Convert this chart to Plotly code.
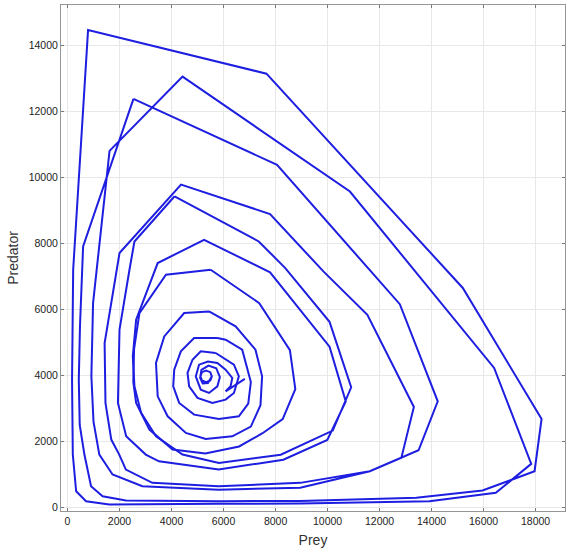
import plotly.graph_objects as go

# ---- data (prey, predator) ----
# outer four-revolution orbit
outer_x = [2536, 600, 480, 434, 470, 650, 905, 1350, 2245, 5812, 8948, 13411, 15958, 17960, 18229, 15200, 7650,
           790, 218, 175, 204, 332, 714, 1606, 5812, 8948, 13919, 16470, 17832, 16405, 10860,
           4424, 1617, 1134, 983, 918, 1000, 1224, 1732, 2879, 5812, 8948, 11625, 12837, 13319, 11531, 9840, 7789,
           4366, 2000, 1427, 1460, 1683, 1989, 2245, 3262, 5812, 8948, 11625, 13499, 14237, 12779, 8057, 2536]
outer_y = [12377, 7907, 5500, 3873, 2500, 1604, 645, 342, 212, 191, 200, 294, 514, 1099, 2684, 6650, 13140,
           14460, 7202, 3873, 1604, 494, 191, 91, 112, 121, 191, 445, 1322, 4227, 9571,
           13051, 10802, 7202, 6194, 3973, 2600, 1604, 999, 645, 540, 600, 1099, 1504, 3047, 5839, 7151, 8890,
           9780, 7707, 4984, 3168, 2058, 1604, 1150, 747, 645, 747, 1099, 1734, 3217, 6159, 10379, 12377]

# two-revolution orbit (tops near 9400 and 8100)
ef_x = [4117, 2574, 2383, 2000, 1939, 2256, 3009, 3518, 5812, 8300, 9990, 10700, 10076, 7789,
        5251, 3468, 2639, 2511, 2574, 2830, 3403, 4424, 5824, 8200, 10200, 10908, 10076, 9331, 8374, 7355, 4117]
ef_y = [9427, 8058, 7202, 5386, 3168, 2158, 1604, 1401, 1150, 1450, 2045, 3214, 4874, 7123,
        8110, 7404, 5689, 4579, 3671, 2866, 2158, 1604, 1352, 1600, 2330, 3642, 5624, 6346, 7253, 8058, 9427]

g_x = [5506, 3786, 2766, 2560, 2530, 2639, 3149, 4040, 5300, 6600, 7500, 8274, 8760, 8552, 7374, 5506]
g_y = [7202, 7051, 5890, 4800, 3800, 3168, 2360, 1755, 1640, 1850, 2250, 2678, 3589, 4767, 6192, 7202]

h_x = [5442, 4486, 3721, 3403, 3468, 3851, 4551, 5315, 6336, 7050, 7420, 7483, 7228, 6463, 5442]
h_y = [5940, 5891, 5184, 4379, 3368, 2763, 2260, 2079, 2158, 2450, 3100, 3973, 4781, 5486, 5940]

i_x = [5763, 4868, 4359, 4104, 4065, 4295, 4868, 5824, 6589, 6950, 7050, 6718, 6080, 5763]
i_y = [5135, 5135, 4730, 4176, 3671, 3168, 2814, 2684, 2763, 3150, 3800, 4781, 5084, 5135]

j_x = [5698, 5124, 4807, 4615, 4677, 4998, 5572, 6080, 6399, 6589, 6399, 6016, 5698]
j_y = [4681, 4730, 4478, 4076, 3671, 3320, 3168, 3268, 3470, 3973, 4327, 4530, 4681]

center_x = [6818, 6080, 6271, 6336, 6080, 5763, 5400, 5059, 4933, 5124, 5442, 5763, 5860, 5720, 5420, 5150,
            5100, 5200, 5400, 5550, 5490, 5330, 5170, 5110, 5170, 5330, 5490, 5550]
center_y = [3894, 3520, 3671, 3925, 4176, 4379, 4420, 4327, 3973, 3571, 3471, 3671, 3950, 4220, 4300, 4170,
            3930, 3760, 3770, 3973, 4100, 4148, 4100, 3973, 3850, 3800, 3850, 3973]

x_ticks = [0, 2000, 4000, 6000, 8000, 10000, 12000, 14000, 16000, 18000]
y_ticks = [0, 2000, 4000, 6000, 8000, 10000, 12000, 14000]

loops = [(outer_x, outer_y), (ef_x, ef_y), (g_x, g_y), (h_x, h_y), (i_x, i_y), (j_x, j_y), (center_x, center_y)]
xs, ys = [], []
for lx, ly in loops:
    xs += lx + [None]
    ys += ly + [None]

fig = go.Figure()
fig.add_trace(go.Scatter(x=xs, y=ys, mode="lines", connectgaps=False,
                         line=dict(color="rgb(30,30,225)", width=2), hoverinfo="skip"))

axis_common = dict(showgrid=True, gridcolor="rgb(232,232,232)", gridwidth=1, automargin=False,
                   zeroline=False, showline=True, linecolor="rgb(150,150,150)", linewidth=1,
                   mirror="ticks", ticks="inside", ticklen=3, tickcolor="rgb(120,120,120)",
                   tickfont=dict(family="Liberation Sans, Arial", size=10.5, color="#222"))

fig.update_layout(
    width=566, height=554, autosize=False,
    margin=dict(l=61, r=1, t=5, b=43),
    paper_bgcolor="white", plot_bgcolor="white",
    showlegend=False,
    xaxis=dict(range=[-250, 19130], tickvals=x_ticks, ticktext=[str(v) for v in x_ticks],
               title=dict(text="Prey", font=dict(family="Liberation Sans, Arial", size=14, color="#333"), standoff=9),
               **axis_common),
    yaxis=dict(range=[-105, 15220], tickvals=y_ticks, ticktext=[str(v) for v in y_ticks],
               title=dict(text="Predator", font=dict(family="Liberation Sans, Arial", size=14, color="#333"), standoff=6),
               **axis_common),
)

post = ("document.documentElement.style.margin='0';document.documentElement.style.overflow='hidden';"
        "document.body.style.margin='0';document.body.style.padding='0';document.body.style.overflow='hidden';")

fig.write_html("out.html", config={"responsive": False, "displayModeBar": False}, post_script=post)
